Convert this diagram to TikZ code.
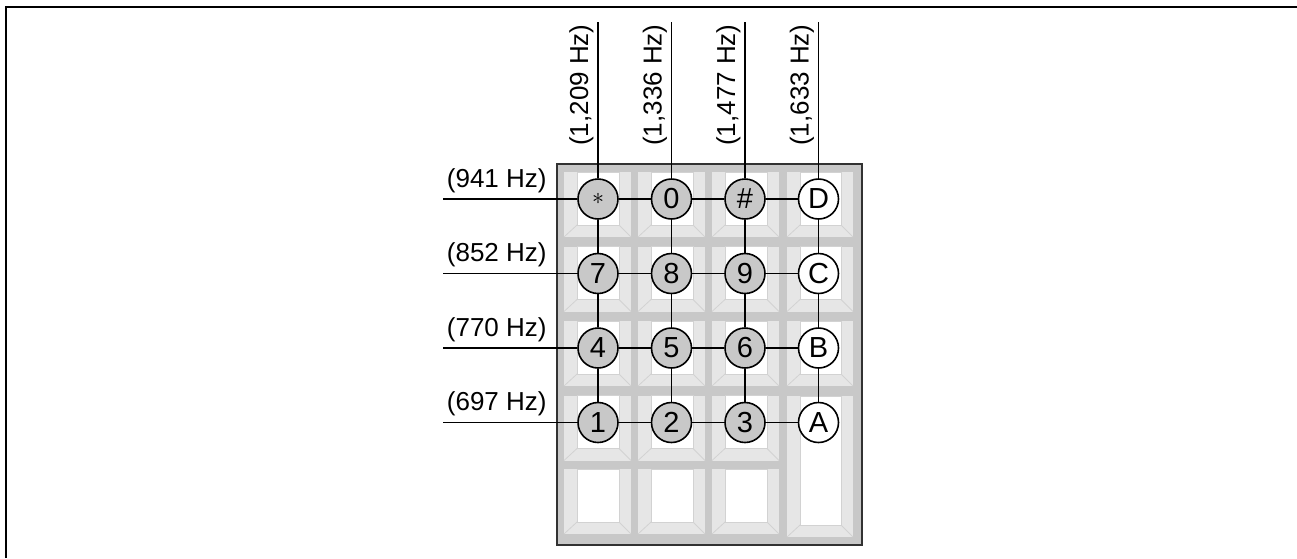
\documentclass[tikz,border=0pt]{standalone}
\usepackage{fontspec}
\setmainfont{Liberation Sans}
\usepackage{tikz}
\usetikzlibrary{positioning}
\definecolor{padgray}{RGB}{200, 200, 200}
\definecolor{bevelgray}{RGB}{230, 230, 230}
\definecolor{edgegray}{RGB}{210, 210, 210}
\definecolor{rimgray}{RGB}{50, 50, 50}

% key cap: left, top, right, bottom
\newcommand{\keycap}[4]{%
  \fill[bevelgray] (#1,#2) rectangle (#3,#4);
  \draw[edgegray, fill=white] (#1+13,#2) rectangle (#3-12,#4-12);
  \draw[edgegray] (#1+13,#4-12) -- (#1,#4) (#3-12,#4-12) -- (#3,#4);
}

\begin{document}
\begin{tikzpicture}[x=0.5pt, y=-0.5pt,
  btn/.style={draw, circle, minimum size=20pt, inner sep=0pt, line width=0.8pt, fill=padgray, font=\fontsize{14.5}{16}\selectfont},
  lbl/.style={inner sep=0pt, font=\fontsize{13}{15}\selectfont},
  wire/.style={line width=0.8pt},
]
  \useasboundingbox (0,0) rectangle (1297,558);

  % Frame
  \draw[line width=1pt] (6,558) -- (6,6.5) -- (1297,6.5);

  % Keypad
  \draw[rimgray, fill=padgray, line width=1pt] (557,164) rectangle (862,545);
  \foreach \r in {0,1,2,3} {
    \foreach \c in {0,1,2} {
      \keycap{564+74*\c}{172+74.5*\r}{631+74*\c}{237+74.5*\r}
    }
  }
  \foreach \r in {0,1,2} {
    \keycap{787}{172+74.5*\r}{853}{237+74.5*\r}
  }
  \foreach \c in {0,1,2} {
    \keycap{564+74*\c}{469}{631+74*\c}{534}
  }
  \keycap{787}{396}{853}{537}

  % Buttons
  \foreach \r/\ka/\kb/\kc/\kd in {0/{\large$\ast$}/0/\#/D, 1/7/8/9/C, 2/4/5/6/B, 3/1/2/3/A} {
    \node[btn] (k\r0) at (598, 199+74.5*\r) {\ka};
    \node[btn] (k\r1) at (671.5, 199+74.5*\r) {\kb};
    \node[btn] (k\r2) at (745, 199+74.5*\r) {\kc};
    \node[btn, fill=white] (k\r3) at (818.5, 199+74.5*\r) {\kd};
  }

  % Row tones
  \foreach \r/\f in {0/941, 1/852, 2/770, 3/697} {
    \coordinate (w\r) at (443, 199+74.5*\r);
    \node[lbl, anchor=south east] (f\r) at (547, 193+74.5*\r) {(\f\ Hz)};
    \draw[wire] (w\r) -- (k\r0) -- (k\r1) -- (k\r2) -- (k\r3);
  }

  % Column tones
  \foreach \c/\f in {0/209, 1/336, 2/477, 3/633} {
    \coordinate (n\c) at (598+73.5*\c, 22);
    \node[lbl, rotate=90, anchor=south east] (g\c) at (594+73.5*\c, 24) {(1,\f\ Hz)};
    \draw[wire] (n\c) -- (k0\c) -- (k1\c) -- (k2\c) -- (k3\c);
  }

\end{tikzpicture}
\end{document}
